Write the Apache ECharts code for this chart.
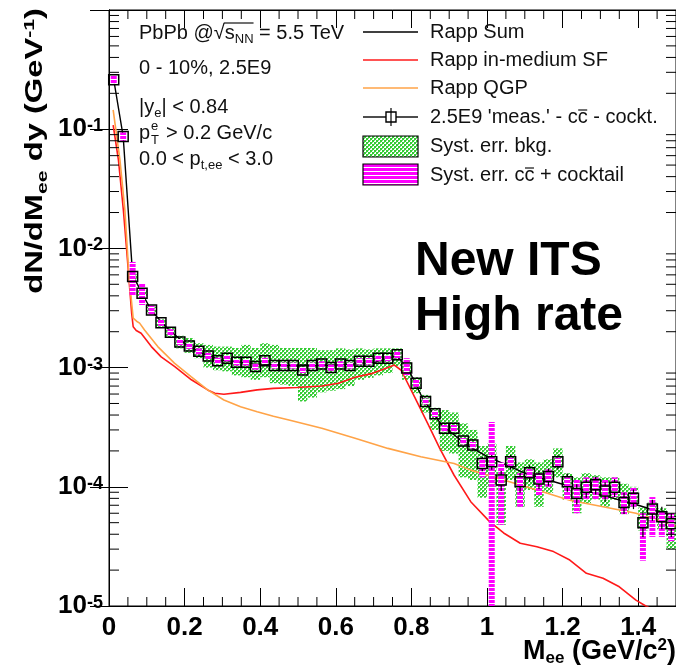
<!DOCTYPE html>
<html>
<head>
<meta charset="utf-8">
<script src="https://cdn.jsdelivr.net/npm/echarts@6/dist/echarts.min.js"></script>
<style>
  html, body { margin: 0; padding: 0; background: #fff; }
  #chart { width: 676px; height: 667px; }
</style>
</head>
<body>
<div id="chart"></div>
<script>
  // invariant mass bins (bin centres, width 0.025 GeV/c^2)
  var massBins = [0.0125, 0.0375, 0.0625, 0.0875, 0.1125, 0.1375, 0.1625, 0.1875, 0.2125, 0.2375,
    0.2625, 0.2875, 0.3125, 0.3375, 0.3625, 0.3875, 0.4125, 0.4375, 0.4625, 0.4875,
    0.5125, 0.5375, 0.5625, 0.5875, 0.6125, 0.6375, 0.6625, 0.6875, 0.7125, 0.7375,
    0.7625, 0.7875, 0.8125, 0.8375, 0.8625, 0.8875, 0.9125, 0.9375, 0.9625, 0.9875,
    1.0125, 1.0375, 1.0625, 1.0875, 1.1125, 1.1375, 1.1625, 1.1875, 1.2125, 1.2375,
    1.2625, 1.2875, 1.3125, 1.3375, 1.3625, 1.3875, 1.4125, 1.4375, 1.4625, 1.4875];
  var binWidth = 0.025;

  // 2.5E9 'meas.' - cc - cocktail
  var yields = [0.26, 0.087, 5.8e-3, 4.2e-3, 3.04e-3, 2.38e-3, 1.98e-3, 1.64e-3, 1.52e-3, 1.37e-3,
    1.25e-3, 1.14e-3, 1.20e-3, 1.11e-3, 1.11e-3, 1.02e-3, 1.14e-3, 1.04e-3, 1.04e-3, 1.04e-3,
    9.55e-4, 1.04e-3, 1.07e-3, 1.0e-3, 1.07e-3, 1.04e-3, 1.13e-3, 1.13e-3, 1.20e-3, 1.20e-3,
    1.28e-3, 9.9e-4, 7.4e-4, 5.2e-4, 4.1e-4, 3.1e-4, 3.1e-4, 2.42e-4, 2.24e-4, 1.57e-4,
    1.62e-4, 1.14e-4, 1.62e-4, 1.10e-4, 1.31e-4, 1.16e-4, 1.22e-4, 1.62e-4, 1.10e-4, 8.8e-5,
    9.9e-5, 1.04e-4, 9.2e-5, 9.9e-5, 7.4e-5, 8.0e-5, 5.0e-5, 6.5e-5, 5.6e-5, 4.9e-5];
  var statErr = [0.008, 0.003, 2e-4, 1.5e-4, 1e-4, 8e-5, 7e-5, 6e-5, 6e-5, 5e-5,
    5e-5, 5e-5, 5e-5, 5e-5, 5e-5, 5e-5, 5e-5, 5e-5, 5e-5, 5e-5,
    5e-5, 5e-5, 5e-5, 5e-5, 5e-5, 5e-5, 6e-5, 6e-5, 6e-5, 6e-5,
    7e-5, 6e-5, 5e-5, 4e-5, 3.5e-5, 3e-5, 3e-5, 2.8e-5, 2.6e-5, 2.2e-5,
    2.3e-5, 2.2e-5, 2.3e-5, 2.1e-5, 2.1e-5, 2e-5, 2e-5, 2.2e-5, 1.9e-5, 1.7e-5,
    1.8e-5, 1.8e-5, 1.7e-5, 1.7e-5, 1.5e-5, 1.5e-5, 1.2e-5, 1.3e-5, 1.2e-5, 1.1e-5];

  // Syst. err. bkg. (green band)
  var bkgLo = [null, null, 5.5e-3, 4.0e-3, 2.85e-3, 2.2e-3, 1.8e-3, 1.45e-3, 1.33e-3, 1.2e-3,
    1.0e-3, 9.5e-4, 9.3e-4, 8.6e-4, 8.3e-4, 7.9e-4, 8.3e-4, 7.4e-4, 7.2e-4, 7.0e-4,
    5.2e-4, 5.6e-4, 6.2e-4, 6.4e-4, 6.6e-4, 7.0e-4, 7.9e-4, 8.2e-4, 8.6e-4, 9.0e-4,
    1.03e-3, 7.9e-4, 6.1e-4, 4.2e-4, 3.0e-4, 2.0e-4, 1.9e-4, 1.2e-4, 1.14e-4, 8.1e-5,
    1.0e-4, 4.8e-5, 1.14e-4, 6.8e-5, 9.4e-5, 6.8e-5, 8.9e-5, 1.2e-4, 7.8e-5, 6.0e-5,
    7.3e-5, 7.8e-5, 6.8e-5, 7.8e-5, 5.9e-5, 6.8e-5, 4.3e-5, 5.2e-5, 4.4e-5, 3.0e-5];
  var bkgHi = [null, null, 6.1e-3, 4.45e-3, 3.25e-3, 2.55e-3, 2.15e-3, 1.85e-3, 1.77e-3, 1.6e-3,
    1.55e-3, 1.5e-3, 1.5e-3, 1.46e-3, 1.55e-3, 1.46e-3, 1.6e-3, 1.55e-3, 1.46e-3, 1.46e-3,
    1.46e-3, 1.46e-3, 1.4e-3, 1.4e-3, 1.45e-3, 1.42e-3, 1.45e-3, 1.42e-3, 1.45e-3, 1.45e-3,
    1.45e-3, 1.15e-3, 8.3e-4, 5.9e-4, 4.6e-4, 4.4e-4, 4.2e-4, 3.4e-4, 3.0e-4, 2.2e-4,
    2.3e-4, 1.35e-4, 2.2e-4, 1.6e-4, 1.7e-4, 1.6e-4, 1.7e-4, 2.1e-4, 1.3e-4, 1.2e-4,
    1.3e-4, 1.25e-4, 1.2e-4, 1.2e-4, 1.06e-4, 1.0e-4, 6.7e-5, 7.4e-5, 6.6e-5, 6.0e-5];

  // Syst. err. cc + cocktail (magenta boxes)
  var ccLo = [0.24, 0.08, 4.06e-3, 3.35e-3, 2.8e-3, 2.24e-3, 1.86e-3, 1.54e-3, 1.43e-3, 1.29e-3,
    1.18e-3, 1.07e-3, 1.13e-3, 1.04e-3, 1.04e-3, 9.6e-4, 1.07e-3, 9.8e-4, 9.8e-4, 9.8e-4,
    9.0e-4, 9.8e-4, 1.0e-3, 9.4e-4, 1.0e-3, 9.8e-4, 1.06e-3, 1.06e-3, 1.13e-3, 1.13e-3,
    1.2e-3, 8.6e-4, 6.9e-4, 4.9e-4, 3.85e-4, 2.9e-4, 2.9e-4, 2.27e-4, 2.1e-4, 1.2e-4,
    5e-6, 4.8e-5, 1.5e-4, 6.8e-5, 1.21e-4, 8.5e-5, 1.0e-4, 1.5e-4, 7.8e-5, 6.0e-5,
    7.8e-5, 7.8e-5, 7.8e-5, 8.2e-5, 5.9e-5, 6.8e-5, 2.4e-5, 3.8e-5, 3.8e-5, 3.5e-5];
  var ccHi = [0.28, 0.094, 7.7e-3, 5.1e-3, 3.3e-3, 2.52e-3, 2.1e-3, 1.74e-3, 1.61e-3, 1.45e-3,
    1.33e-3, 1.21e-3, 1.27e-3, 1.18e-3, 1.18e-3, 1.08e-3, 1.21e-3, 1.1e-3, 1.1e-3, 1.1e-3,
    1.01e-3, 1.1e-3, 1.13e-3, 1.06e-3, 1.13e-3, 1.1e-3, 1.2e-3, 1.2e-3, 1.27e-3, 1.27e-3,
    1.36e-3, 1.2e-3, 7.9e-4, 5.5e-4, 4.35e-4, 3.3e-4, 3.3e-4, 2.57e-4, 2.38e-4, 1.75e-4,
    3.5e-4, 1.6e-4, 1.75e-4, 1.3e-4, 1.41e-4, 1.3e-4, 1.4e-4, 1.75e-4, 1.2e-4, 1.14e-4,
    1.2e-4, 1.2e-4, 1.14e-4, 1.2e-4, 9.0e-5, 9.9e-5, 6.0e-5, 8.2e-5, 6.2e-5, 6.0e-5];

  // Rapp model curves
  var sfMass = [0.011, 0.025, 0.038, 0.049, 0.060, 0.064, 0.072, 0.085, 0.112, 0.138, 0.174, 0.218, 0.261, 0.28,
    0.304, 0.348, 0.392, 0.435, 0.497, 0.563, 0.607, 0.651, 0.694, 0.755, 0.773, 0.808, 0.843, 0.875,
    0.913, 0.957, 1.007, 1.044, 1.088, 1.132, 1.176, 1.219, 1.263, 1.307, 1.35, 1.394, 1.42, 1.45, 1.5];
  var sfYield = [0.108, 0.055, 0.021, 7.9e-3, 2.85e-3, 2.2e-3, 2.05e-3, 1.94e-3, 1.5e-3, 1.23e-3, 1.02e-3, 7.9e-4, 6.5e-4, 6.1e-4,
    5.97e-4, 6.2e-4, 6.5e-4, 6.7e-4, 6.8e-4, 7.0e-4, 7.4e-4, 8.3e-4, 8.9e-4, 1.05e-3, 9.5e-4, 5.7e-4, 3.4e-4, 2.1e-4,
    1.25e-4, 7.5e-5, 5.1e-5, 4.1e-5, 3.36e-5, 3.14e-5, 2.86e-5, 2.43e-5, 1.88e-5, 1.71e-5, 1.45e-5, 1.12e-5, 1.0e-5, 9e-6, 8e-6];
  var qgpMass = [0.011, 0.029, 0.042, 0.053, 0.064, 0.073, 0.081, 0.094, 0.129, 0.173, 0.217, 0.261, 0.304, 0.348, 0.392,
    0.435, 0.476, 0.563, 0.651, 0.738, 0.825, 0.913, 0.957, 1.044, 1.132, 1.219, 1.307, 1.394, 1.482, 1.5];
  var qgpYield = [0.145, 0.055, 0.021, 5.8e-3, 2.6e-3, 2.45e-3, 2.36e-3, 2.07e-3, 1.5e-3, 1.09e-3, 8.4e-4, 6.5e-4, 5.35e-4, 4.7e-4, 4.27e-4,
    3.9e-4, 3.63e-4, 3.1e-4, 2.55e-4, 2.1e-4, 1.79e-4, 1.57e-4, 1.38e-4, 1.14e-4, 9.4e-5, 7.7e-5, 6.8e-5, 6.0e-5, 4.9e-5, 4.7e-5];
  var sumMass = [0.0125, 0.0375, 0.0625, 0.0875, 0.1125, 0.15, 0.2, 0.25, 0.3, 0.4, 0.5, 0.6, 0.7, 0.76, 0.79, 0.83,
    0.88, 0.95, 1.0, 1.1, 1.2, 1.3, 1.4, 1.5];
  var sumYield = [0.26, 0.087, 6.0e-3, 4.2e-3, 3.0e-3, 2.2e-3, 1.6e-3, 1.3e-3, 1.15e-3, 1.07e-3, 1.03e-3, 1.05e-3, 1.1e-3, 1.26e-3, 1.0e-3, 5.5e-4,
    3.3e-4, 2.2e-4, 1.8e-4, 1.3e-4, 1.05e-4, 8.6e-5, 7.0e-5, 5.6e-5];

  // minor tick positions (ROOT style frame)
  var yMinorTicks = [2e-5, 3e-5, 4e-5, 5e-5, 6e-5, 7e-5, 8e-5, 9e-5,
    2e-4, 3e-4, 4e-4, 5e-4, 6e-4, 7e-4, 8e-4, 9e-4,
    2e-3, 3e-3, 4e-3, 5e-3, 6e-3, 7e-3, 8e-3, 9e-3,
    0.02, 0.03, 0.04, 0.05, 0.06, 0.07, 0.08, 0.09,
    0.2, 0.3, 0.4, 0.5, 0.6, 0.7, 0.8, 0.9];
  var xMinorTicks = [0.05, 0.1, 0.15, 0.25, 0.3, 0.35, 0.45, 0.5, 0.55, 0.65, 0.7, 0.75,
    0.85, 0.9, 0.95, 1.05, 1.1, 1.15, 1.25, 1.3, 1.35, 1.45];

  var FONT = 'Liberation Sans, Arial, Helvetica, sans-serif';

  function makePattern(w, h, draw) {
    var c = document.createElement('canvas');
    c.width = w; c.height = h;
    draw(c.getContext('2d'));
    return {image: c, repeat: 'repeat'};
  }
  var greenFill = makePattern(4, 4, function (g) {
    g.fillStyle = '#ffffff'; g.fillRect(0, 0, 4, 4);
    g.fillStyle = '#33cc33'; g.fillRect(0, 0, 2, 2); g.fillRect(2, 2, 2, 2);
    g.fillStyle = '#7ddd7d'; g.fillRect(2, 0, 1, 1); g.fillRect(0, 2, 1, 1);
  });
  var magentaFill = makePattern(4, 4, function (g) {
    g.fillStyle = '#ff00ff'; g.fillRect(0, 0, 4, 3);
    g.fillStyle = '#ffffff'; g.fillRect(0, 3, 4, 1);
  });

  // text width helper, used to place the overlines of sqrt(s) and c-bar
  var measureCtx = document.createElement('canvas').getContext('2d');
  function tw(s, font) {
    measureCtx.font = font;
    return measureCtx.measureText(s).width;
  }

  var bandData = [], ccData = [], pointData = [];
  for (var i = 0; i < massBins.length; i++) {
    if (bkgLo[i] != null) bandData.push([massBins[i], bkgLo[i], bkgHi[i]]);
    ccData.push([massBins[i], ccLo[i], ccHi[i]]);
    pointData.push([massBins[i], yields[i], statErr[i]]);
  }
  function pairs(xs, ys) {
    return xs.map(function (x, j) { return [x, ys[j]]; });
  }

  var chart = echarts.init(document.getElementById('chart'), null, {renderer: 'canvas'});

  function binRect(params, api, x, lo, hi, halfWidthPx) {
    var a = api.coord([x, hi]);
    var b = api.coord([x, lo]);
    var left, width;
    if (halfWidthPx) {
      left = a[0] - halfWidthPx; width = 2 * halfWidthPx;
    } else {
      var l = api.coord([x - binWidth / 2, hi])[0];
      var r = api.coord([x + binWidth / 2, hi])[0];
      left = l; width = r - l;
    }
    return echarts.graphic.clipRectByRect(
      {x: left, y: a[1], width: width, height: b[1] - a[1]},
      {x: params.coordSys.x, y: params.coordSys.y, width: params.coordSys.width, height: params.coordSys.height}
    );
  }

  var axisBase = {
    axisLine: {show: true, lineStyle: {color: '#000', width: 1}},
    splitLine: {show: false}
  };

  var option = {
    animation: false,
    backgroundColor: '#fff',
    grid: {left: 109, right: -4, top: 10, bottom: 61, show: true, borderColor: '#000', borderWidth: 1, backgroundColor: 'transparent'},
    xAxis: [
      Object.assign({}, axisBase, {
        type: 'value', min: 0, max: 1.5, interval: 0.2, position: 'bottom',
        axisTick: {show: true, inside: true, length: 18, lineStyle: {color: '#000'}},
        axisLabel: {
          color: '#000', fontFamily: FONT, fontWeight: 'bold', fontSize: 26, margin: 9,
          showMaxLabel: false,
          formatter: function (v) {
            var k = Math.round(v / 0.2);
            if (Math.abs(v - k * 0.2) > 1e-6) return '';
            return String(+v.toFixed(1));
          }
        }
      }),
      Object.assign({}, axisBase, {
        type: 'value', min: 0, max: 1.5, interval: 0.2, position: 'top',
        axisTick: {show: true, inside: true, length: 18, lineStyle: {color: '#000'}},
        axisLabel: {show: false}
      })
    ],
    yAxis: [
      Object.assign({}, axisBase, {
        type: 'log', logBase: 10, min: 1e-5, max: 1, position: 'left',
        axisTick: {show: true, inside: true, length: 19, lineStyle: {color: '#000'}},
        axisLabel: {
          margin: 6,
          formatter: function (v) {
            var e = Math.round(Math.log10(v));
            if (e >= 0) return '';
            return '{b|10}{s|' + e + '}';
          },
          rich: {
            b: {color: '#000', fontFamily: FONT, fontWeight: 'bold', fontSize: 26, lineHeight: 24},
            s: {color: '#000', fontFamily: FONT, fontWeight: 'bold', fontSize: 18, lineHeight: 18, verticalAlign: 'top'}
          }
        }
      }),
      Object.assign({}, axisBase, {
        type: 'log', logBase: 10, min: 1e-5, max: 1, position: 'right',
        axisTick: {show: true, inside: true, length: 19, lineStyle: {color: '#000'}},
        axisLabel: {show: false}
      })
    ],
    series: [
      {
        name: 'Syst. err. bkg.', type: 'custom', data: bandData, z: 2,
        renderItem: function (params, api) {
          var r = binRect(params, api, api.value(0), api.value(1), api.value(2), 0);
          if (!r) return;
          return {type: 'rect', shape: r, style: {fill: greenFill}};
        }
      },
      {
        name: 'Rapp in-medium SF', type: 'line', data: pairs(sfMass, sfYield), showSymbol: false, z: 3,
        lineStyle: {color: '#ff1a1a', width: 1.6}, clip: true
      },
      {
        name: 'Rapp QGP', type: 'line', data: pairs(qgpMass, qgpYield), showSymbol: false, z: 3,
        lineStyle: {color: '#ffa347', width: 1.6}, clip: true
      },
      {
        name: 'Rapp Sum', type: 'line', data: pairs(sumMass, sumYield), showSymbol: false, z: 3,
        lineStyle: {color: '#000', width: 1.4}, clip: true
      },
      {
        name: 'Syst. err. cc + cocktail', type: 'custom', data: ccData, z: 4,
        renderItem: function (params, api) {
          var r = binRect(params, api, api.value(0), api.value(1), api.value(2), 3);
          if (!r) return;
          return {type: 'rect', shape: r, style: {fill: magentaFill}};
        }
      },
      {
        name: "2.5E9 'meas.' - cc - cockt.", type: 'custom', data: pointData, z: 5,
        renderItem: function (params, api) {
          var x = api.value(0), y = api.value(1), e = api.value(2);
          var p = api.coord([x, y]);
          var top = api.coord([x, y + e]);
          var bot = api.coord([x, Math.max(y - e, 1e-6)]);
          var h = 5;
          var kids = [];
          if (top[1] < p[1] - h) kids.push({type: 'line', shape: {x1: p[0], y1: top[1], x2: p[0], y2: p[1] - h}, style: {stroke: '#000', lineWidth: 1.2}});
          if (bot[1] > p[1] + h) kids.push({type: 'line', shape: {x1: p[0], y1: p[1] + h, x2: p[0], y2: bot[1]}, style: {stroke: '#000', lineWidth: 1.2}});
          kids.push({type: 'rect', shape: {x: p[0] - h, y: p[1] - h, width: 2 * h, height: 2 * h}, style: {fill: null, stroke: '#000', lineWidth: 1.5}});
          return {type: 'group', children: kids};
        }
      },
      {
        name: 'yMinor', type: 'custom', data: yMinorTicks.map(function (v) { return [0.5, v]; }), z: 6, silent: true,
        renderItem: function (params, api) {
          var v = api.value(1);
          var l = api.coord([0, v]), r = api.coord([1.5, v]);
          return {type: 'group', children: [
            {type: 'line', shape: {x1: l[0], y1: l[1], x2: l[0] + 10, y2: l[1]}, style: {stroke: '#000', lineWidth: 1}},
            {type: 'line', shape: {x1: r[0] - 10, y1: r[1], x2: r[0], y2: r[1]}, style: {stroke: '#000', lineWidth: 1}}
          ]};
        }
      },
      {
        name: 'xMinor', type: 'custom', data: xMinorTicks.map(function (v) { return [v, 1e-3]; }), z: 6, silent: true,
        renderItem: function (params, api) {
          var v = api.value(0);
          var b = api.coord([v, 1e-5]), t = api.coord([v, 1]);
          return {type: 'group', children: [
            {type: 'line', shape: {x1: b[0], y1: b[1], x2: b[0], y2: b[1] - 9}, style: {stroke: '#000', lineWidth: 1}},
            {type: 'line', shape: {x1: t[0], y1: t[1], x2: t[0], y2: t[1] + 9}, style: {stroke: '#000', lineWidth: 1}}
          ]};
        }
      }
    ],
    graphic: []
  };

  function txt(x, y, text, rich, extra) {
    return {
      type: 'text', z: 100,
      style: Object.assign({x: x, y: y, text: text, fill: '#111', font: '20px ' + FONT, textVerticalAlign: 'middle', rich: rich || {}}, extra || {})
    };
  }
  function bar(x1, x2, y) {
    return {type: 'line', z: 100, shape: {x1: x1, y1: y, x2: x2, y2: y}, style: {stroke: '#111', lineWidth: 1.2}};
  }
  var infoRich = {
    n: {fontSize: 20, fontFamily: FONT, fill: '#111', lineHeight: 26},
    sub: {fontSize: 13, fontFamily: FONT, fill: '#111', lineHeight: 13, verticalAlign: 'bottom'},
    sup: {fontSize: 13, fontFamily: FONT, fill: '#111', lineHeight: 13, verticalAlign: 'top'}
  };
  var F20 = '20px ' + FONT, F13 = '13px ' + FONT;

  var g = [];
  // info block
  var tx0 = 139;
  g.push(txt(tx0, 33, '{n|PbPb @√}{n|s}{sub|NN}{n| = 5.5 TeV}', infoRich));
  var sqStart = tx0 + tw('PbPb @√', F20) - 1;
  g.push(bar(sqStart, sqStart + 1 + tw('s', F20) + tw('NN', F13), 23));
  g.push(txt(tx0, 68, '0 - 10%, 2.5E9', null));
  g.push(txt(tx0, 107, '{n||y}{sub|e}{n|| < 0.84}', infoRich));
  g.push(txt(tx0, 133, 'p', null));
  g.push(txt(tx0 + 12, 126, 'e', null, {font: F13}));
  g.push(txt(tx0 + 12, 140, 'T', null, {font: F13}));
  g.push(txt(tx0 + 27, 133, '> 0.2 GeV/c', null));
  g.push(txt(tx0, 159, '{n|0.0 < p}{sub|t,ee}{n| < 3.0}', infoRich));

  // legend
  var lx1 = 363, lx2 = 418, tx = 430;
  g.push({type: 'line', z: 100, shape: {x1: lx1, y1: 32, x2: lx2, y2: 32}, style: {stroke: '#000', lineWidth: 1.4}});
  g.push(txt(tx, 32, 'Rapp Sum', null));
  g.push({type: 'line', z: 100, shape: {x1: lx1, y1: 60, x2: lx2, y2: 60}, style: {stroke: '#ff1a1a', lineWidth: 1.6}});
  g.push(txt(tx, 60, 'Rapp in-medium SF', null));
  g.push({type: 'line', z: 100, shape: {x1: lx1, y1: 88, x2: lx2, y2: 88}, style: {stroke: '#ffa347', lineWidth: 1.6}});
  g.push(txt(tx, 88, 'Rapp QGP', null));
  g.push({type: 'line', z: 100, shape: {x1: lx1, y1: 117, x2: 386, y2: 117}, style: {stroke: '#000', lineWidth: 1.4}});
  g.push({type: 'line', z: 100, shape: {x1: 396, y1: 117, x2: lx2, y2: 117}, style: {stroke: '#000', lineWidth: 1.4}});
  g.push({type: 'line', z: 100, shape: {x1: 391, y1: 108, x2: 391, y2: 126}, style: {stroke: '#000', lineWidth: 1.2}});
  g.push({type: 'rect', z: 100, shape: {x: 386, y: 112, width: 10, height: 10}, style: {fill: null, stroke: '#000', lineWidth: 1.4}});
  var measText = "2.5E9 'meas.' - cc - cockt.";
  g.push(txt(tx, 117, measText, null));
  var cb1 = tx + tw("2.5E9 'meas.' - c", F20);
  g.push(bar(cb1 + 0.5, cb1 + tw('c', F20) - 0.5, 110));
  g.push({type: 'rect', z: 100, shape: {x: lx1, y: 136, width: lx2 - lx1, height: 21}, style: {fill: greenFill, stroke: '#000', lineWidth: 1.2}});
  g.push(txt(tx, 146, 'Syst. err. bkg.', null));
  g.push({type: 'rect', z: 100, shape: {x: lx1, y: 164, width: lx2 - lx1, height: 21}, style: {fill: magentaFill, stroke: '#000', lineWidth: 1.2}});
  g.push(txt(tx, 175, 'Syst. err. cc + cocktail', null));
  var cb2 = tx + tw('Syst. err. c', F20);
  g.push(bar(cb2 + 0.5, cb2 + tw('c', F20) - 0.5, 168));

  // big label
  g.push(txt(415, 262, 'New ITS', null, {font: 'bold 48px ' + FONT, fill: '#000'}));
  g.push(txt(415, 317, 'High rate', null, {font: 'bold 48px ' + FONT, fill: '#000'}));

  // axis titles
  var axRich = {
    b: {fontSize: 27, fontWeight: 'bold', fontFamily: FONT, fill: '#000', lineHeight: 30},
    sub: {fontSize: 17, fontWeight: 'bold', fontFamily: FONT, fill: '#000', lineHeight: 17, verticalAlign: 'bottom'},
    sup: {fontSize: 17, fontWeight: 'bold', fontFamily: FONT, fill: '#000', lineHeight: 17, verticalAlign: 'top'}
  };
  g.push(txt(676, 652, '{b|M}{sub|ee}{b| (GeV/c}{sup|2}{b|)}', axRich, {textAlign: 'right'}));
  var yRich = {
    b: {fontSize: 23, fontWeight: 'bold', fontFamily: FONT, fill: '#000', lineHeight: 28},
    sub: {fontSize: 15, fontWeight: 'bold', fontFamily: FONT, fill: '#000', lineHeight: 15, verticalAlign: 'bottom'},
    sup: {fontSize: 15, fontWeight: 'bold', fontFamily: FONT, fill: '#000', lineHeight: 15, verticalAlign: 'top'}
  };
  g.push({
    type: 'text', z: 100, x: 36, y: 8, rotation: Math.PI / 2, scaleX: 1.42,
    style: {x: 0, y: 0, text: '{b|dN/dM}{sub|ee}{b| dy (GeV}{sup|-1}{b|)}', rich: yRich, textAlign: 'right', textVerticalAlign: 'middle', font: 'bold 23px ' + FONT}
  });

  option.graphic = g;
  chart.setOption(option);
</script>
</body>
</html>
